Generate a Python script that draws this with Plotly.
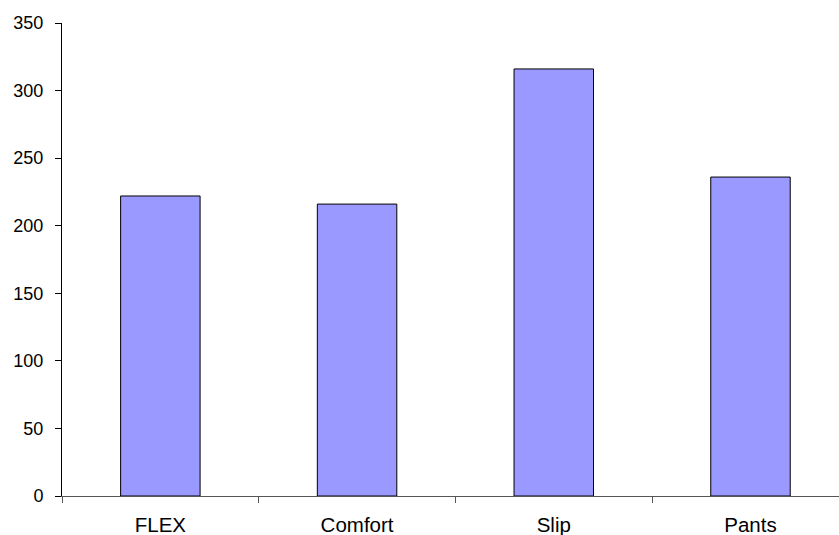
import plotly.graph_objects as go

# Product categories and their totals
categories = ["FLEX", "Comfort", "Slip", "Pants"]
values = [222, 216, 316, 236]
y_ticks = [0, 50, 100, 150, 200, 250, 300, 350]

fig = go.Figure(
    go.Bar(
        x=categories,
        y=values,
        marker=dict(color="#9999FF", line=dict(color="#000000", width=1)),
        hoverinfo="x+y",
    )
)

fig.update_layout(
    width=839,
    height=535,
    margin=dict(l=62, r=0, t=23, b=39, pad=0),
    paper_bgcolor="white",
    plot_bgcolor="white",
    bargap=0.596,
    showlegend=False,
    font=dict(family="Liberation Sans, Arial, sans-serif", color="#000000"),
)

fig.update_xaxes(
    type="category",
    range=[-0.5, 3.45],
    showline=True,
    linecolor="#555555",
    linewidth=1,
    ticks="outside",
    tickson="boundaries",
    ticklen=6,
    tickcolor="#555555",
    tickfont=dict(size=20.5),
    ticklabelstandoff=10,
    showgrid=False,
    zeroline=False,
)

fig.update_yaxes(
    range=[0, 350],
    tickvals=y_ticks,
    showline=True,
    linecolor="#000000",
    linewidth=1,
    ticks="outside",
    ticklen=6,
    tickcolor="#000000",
    tickfont=dict(size=18),
    ticklabelstandoff=8,
    showgrid=False,
    zeroline=False,
)

fig.write_html("out.html")
